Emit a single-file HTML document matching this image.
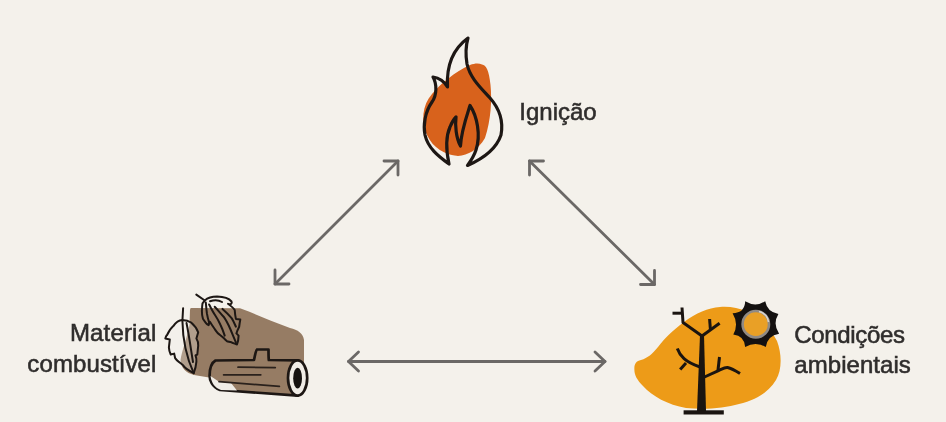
<!DOCTYPE html>
<html><head><meta charset="utf-8">
<style>
html,body{margin:0;padding:0;background:#f4f1eb;}
body{width:946px;height:422px;overflow:hidden;position:relative;}
svg{position:absolute;left:0;top:0;filter:blur(0.7px);}
text{font-family:"Liberation Sans",sans-serif;fill:#2f2d2c;stroke:#2f2d2c;stroke-width:0.55px;}
</style></head><body>
<svg width="946" height="422" viewBox="0 0 946 422">
<!-- arrows -->
<g stroke="#6b6866" stroke-width="2.8" fill="none" stroke-linecap="round" stroke-linejoin="round">
  <path d="M275 284 L398 161"/>
  <path d="M384 161 L398 161 L398 175"/>
  <path d="M275 270 L275 284 L289 284"/>
  <path d="M529.5 161 L654.5 284.5"/>
  <path d="M543.5 161 L529.5 161 L529.5 175"/>
  <path d="M654.5 270.5 L654.5 284.5 L640.5 284.5"/>
  <path d="M348.5 361.5 L605 361.5"/>
  <path d="M358.5 352 L348.5 361.5 L358.5 371"/>
  <path d="M595 352 L605 361.5 L595 371"/>
</g>

<!-- flame -->
<path fill="#d8621c" d="M482 64.5 C486 65 489 70 490.5 85 C492 100 491 120 485 138 C478 150 468 155 458 156 C445 155 433 148 427 135 C421 122 422 105 432 94 C440 84 455 72 470 65 C475 63 479 63 482 64.5 Z"/>
<path fill="none" stroke="#1d1714" stroke-width="3.2" stroke-linejoin="round" d="M449 164 C446 150 446 136 450 127 C452 122 454 119 456 117 C455 125 456 138 460.5 146 C461 132 466 118 470 105.5 C477 116 481 135 476 150 C474 156 470 162 467.5 165.5 C480 160 496 150 501 135 C504 119 498 107 490 98 C481 88 470 78 467 64 C465.5 55 466 45 468 38 C457 46 446 60 447.5 87 C444 81 440 78 433 77 C437 84 437 95 432 102 C425 112 423 125 425 135 C428 148 438 156 449 164 Z"/>

<!-- log & leaves -->
<path fill="#967c64" d="M191 308 L240 308.3 C256 314 273 322 290 328 C298 330 303 333 304 340 L304 362 L296 392 L234 390 L212 378 L194 375 C186 373 181 368 180.5 360 C182 350 187 338 189.5 325 L190 310 C190.2 308.8 190.5 308.2 191 308 Z"/>
<!-- log -->
<path fill="#967c64" stroke="#1d1714" stroke-width="2.7" stroke-linejoin="round" d="M215.5 360.5 L254 360 C255 355 256 350 257 349.5 L268.5 349.5 C268.5 352 268.5 357 268.8 360 L297.8 360.3 L297.8 395.7 L220 390 C212 387 209.5 380 209.6 375.5 C209.7 368 211 363 215.5 360.5 Z"/>
<path fill="#f0ece6" d="M210.5 376 L219 381.7 L231 383 L237 390.5 L221 390 C215 388 211.5 383 210.5 376 Z"/>
<ellipse cx="297.6" cy="378" rx="9.6" ry="17.6" fill="#f0ece6" stroke="#1d1714" stroke-width="2.7"/>
<ellipse cx="297.6" cy="378.2" rx="4.4" ry="10.4" fill="#161210"/>
<g stroke="#2a211c" stroke-width="1.7" stroke-linecap="round" fill="none">
  <path d="M238 367.2 L275.3 367.6"/>
  <path d="M223.6 374.8 L260.8 374.8"/>
  <path d="M219 381.7 L279.4 386.4"/>
</g>
<!-- leaf 2 -->
<g fill="none" stroke="#1d1714" stroke-width="2" stroke-linejoin="round" stroke-linecap="round">
  <path d="M196.3 294.6 L204.8 300.5"/>
  <path d="M204.8 300.5 C207 298.5 212 296.6 217.1 296.6 C223 296.8 229 298.5 231.5 301.5 C232.5 303.5 230.5 305 228 303.8 C231 306 233.5 308 234.7 310 C235 314 235.5 317 235.9 318.9 L240.3 319.5 C239.8 322 239.5 324 239.2 326.7 C238 329 237 331 236.4 333.4 L238.6 335.6 C238.5 339 238 342 237 344.5 C234 343.5 232 342.8 231.4 342.3 C229.5 341.8 228 341.5 227 341.2 C225.5 340 224.5 339 223.6 337.9 C221 336 219 334 217.5 332.9 C216 331 215.2 330 214.7 329 C212.5 326 211 323.5 209.7 321.7 L208.6 325.1 C207.5 324.5 206.5 323.7 205.8 322.8 C204 320.5 203.3 319.5 203 318.9 C202 315 201.8 313 201.9 311.1 C202 308 202.2 305 202.5 303.3 Z"/>
  <path d="M210 301.2 C214 300 219 300.2 222 302"/>
  <path d="M205.8 302.5 C206.2 307 206.6 311 206.9 313.4 C207.5 317 208.3 320 209.1 322.3"/>
  <path d="M209.1 304.5 C211 308 213 312 214.7 314.5 C217 318 219 321.5 220.3 324.5 C222 328 223.5 332 224.7 335.6"/>
  <path d="M214.7 306.7 C218 310 221 314 223.6 316.7 C226 320 228.5 325 230.3 329 C232 333 234 338 235.9 342.3"/>
  <path d="M222.5 308.9 C226 312 229 315 231.4 317.8 C233 320 234.5 323.5 235.9 326.7"/>
</g>
<!-- leaf 1 -->
<g fill="none" stroke="#1d1714" stroke-width="2" stroke-linejoin="round" stroke-linecap="round">
  <path fill="rgba(243,240,235,0.3)" d="M173.3 326.1 C176 322 179 320 182.2 319.9 C186 320 189 321 191.1 322.5 C194 325 197 329 198.2 332.3 L196.4 338.5 C198 341 198.5 343 198.2 345.6 L197.3 354.5 L195.5 355.4 C196.5 358 196.5 360 196.4 361.6 C196 366 195 370 193.7 373.2 C188 370 184 367 183.1 365.2 C179 362 176 360 175.1 358 L174.2 353.6 L170.7 354.5 C169.5 352 169 350 168.9 347.4 L169.8 339.4 L165.3 338.5 C166 336 167 335 167.1 335 C169 331 171 328 173.3 326.1 Z"/>
  <path d="M183.1 308.3 L182.4 320.8 C182.6 333 184 352 193.7 373.2"/>
  <path d="M186.5 323 C189 335 191 350 193 362"/>
</g>
<!-- tree blob -->
<path fill="#ed9b18" d="M634.4 370 C634 364 636 361 641 360 C648 358 652 354 658 347 C665 338 672 331 684 322 C696 313 708 308 720 307 C742 305 766 318 777 341 C782 354 782 370 776 380 C769 392 756 400 739 404 C725 408 705 410 686 408 C668 405 652 396 643 386 C637 380 634.5 375 634.4 370 Z"/>
<!-- tree -->
<g fill="none" stroke="#1a1410" stroke-width="3" stroke-linecap="butt" stroke-linejoin="round">
  <path d="M702 336 L683 322.5 L682 307.5"/>
  <path d="M672.5 313.2 L682 313.2"/>
  <path d="M702 336 L719.6 323.2"/>
  <path d="M710.4 329.5 L709.6 319"/>
  <path d="M677.3 348.5 C680 356 685 362 700 367"/>
  <path d="M686 363 L680.2 369.4"/>
  <path d="M704.5 377 L718.5 370.6 C722 369 725 367.2 727.5 367.5 C732 368.5 736 371 740 373.5"/>
  <path d="M717.9 371 L719.5 357"/>
</g>
<path fill="#1a1410" d="M700 335 L704 335 L706 411 L697 411 Z"/>
<rect x="683.6" y="410.3" width="40.2" height="4.2" fill="#1a1410"/>
<!-- sun -->
<path fill="#141110" d="M745.2 301.3 Q755.4 307.5 765.2 301.3 Q767.3 312.3 778.4 313.9 Q772.4 323.9 779.1 333.8 Q767.5 335.6 765.8 347.1 Q755.6 340.9 745.2 347.1 Q744.4 335.7 733.3 334.5 Q739.1 324.0 732.6 313.2 Q744.7 313.1 745.2 301.3 Z"/>
<circle cx="755.8" cy="324.2" r="13.2" fill="#e9a026" stroke="#8f8a85" stroke-width="2.6"/>
<path d="M759 311.5 A13 13 0 0 1 768.5 322" fill="none" stroke="#d9d4cf" stroke-width="1.6"/>

<!-- texts -->
<text x="519.3" y="119.9" font-size="24">Ignição</text>
<text x="156.5" y="341.4" font-size="24" text-anchor="end" letter-spacing="0.15">Material</text>
<text x="156.5" y="371.6" font-size="24" text-anchor="end" letter-spacing="0.1">combustível</text>
<text x="794.3" y="343.2" font-size="24" letter-spacing="-0.35">Condições</text>
<text x="794.3" y="373.4" font-size="24" letter-spacing="0.05">ambientais</text>
</svg>
</body></html>
